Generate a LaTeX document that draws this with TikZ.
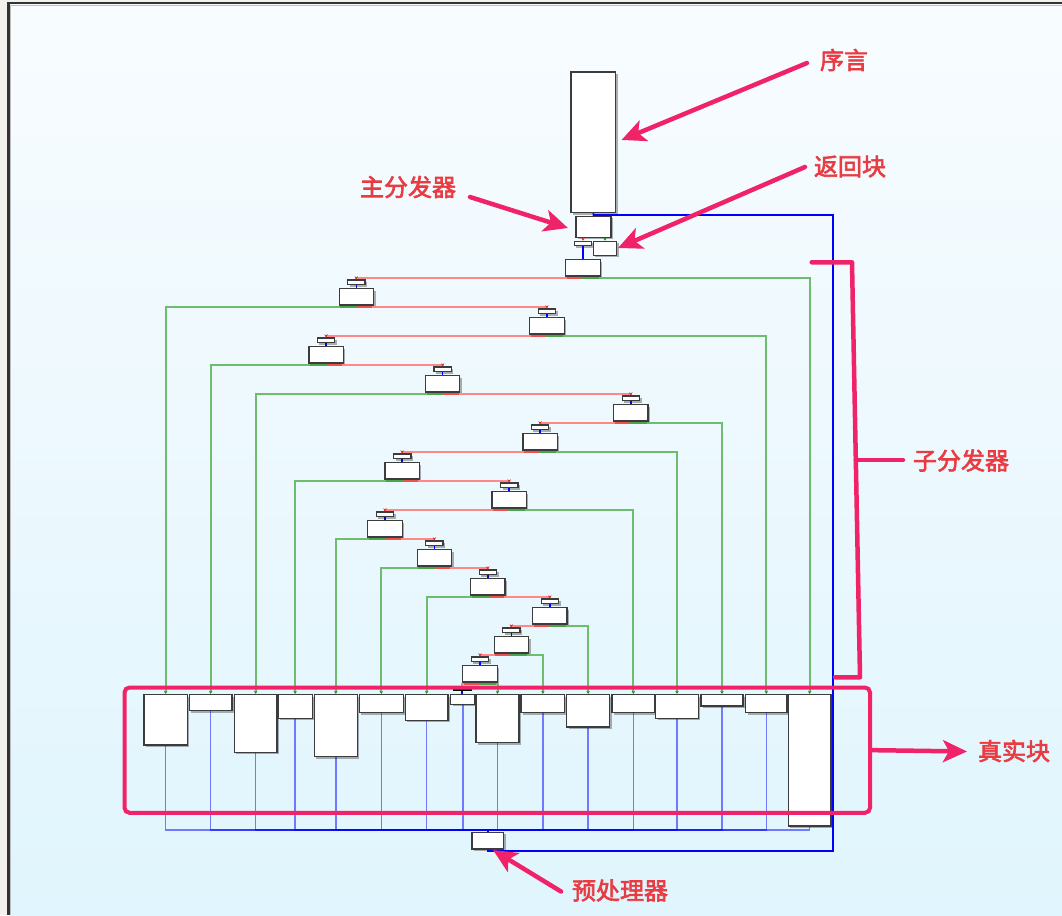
\documentclass[tikz,border=0pt]{standalone}
\usepackage{fontspec}
\newfontfamily\cjk[FakeBold=2.6]{Noto Sans CJK SC}
\usetikzlibrary{arrows.meta,shadows}
\definecolor{bgout}{RGB}{242,241,238}
\definecolor{frame}{RGB}{50,50,50}
\definecolor{bgtop}{RGB}{248,252,255}
\definecolor{bgbot}{RGB}{224,245,253}
\definecolor{annot}{RGB}{240,34,104}
\definecolor{lbltxt}{RGB}{232,60,66}
\definecolor{redL}{RGB}{255,135,135}
\definecolor{redS}{RGB}{235,35,35}
\definecolor{greenL}{RGB}{110,188,110}
\definecolor{greenS}{RGB}{30,140,30}
\definecolor{blueS}{RGB}{0,0,255}
\definecolor{boxline}{RGB}{60,60,60}
\tikzset{
 blk/.style={rectangle, draw=boxline, fill=white, line width=1.2pt, inner sep=0pt,
   drop shadow={shadow xshift=2pt, shadow yshift=-2pt, fill=black, opacity=0.3}},
 tinyx/.style={rectangle, draw=black, fill=black, inner sep=0pt, minimum width=18pt, minimum height=1.2pt},
 redge/.style={draw=redL, line width=2pt, -{Stealth[length=3pt,width=3.5pt,color=redS]}},
 gedge/.style={draw=greenL, line width=2pt, -{Stealth[length=3pt,width=3.5pt,color=greenS]}},
 rstart/.style={draw=redS!80, line width=2.2pt},
 gstart/.style={draw=greenS!80, line width=2.2pt},
 bedge/.style={draw=blueS, line width=1.5pt},
 bret/.style={draw=blueS, draw opacity=0.5, line width=1.6pt},
 bloop/.style={draw=blueS, line width=2pt},
 ann/.style={draw=annot, line width=4.5pt, line cap=round, line join=round},
 annarrow/.style={ann, -{Stealth[length=24pt,width=22pt,inset=6pt]}},
 lbl/.style={font=\cjk\fontsize{24}{28}\selectfont, text=lbltxt, inner sep=0pt},
}
\newcommand\mkbox[5]{%
  \pgfmathsetmacro\mbw{#4-#2}%
  \pgfmathsetmacro\mbh{#5-#3}%
  \node[blk, minimum width=\mbw pt, minimum height=\mbh pt] (#1) at ({(#2+#4)/2},{(#3+#5)/2}) {};}
\newcommand\disp[3]{%
  \node[blk, minimum width=34.4pt, minimum height=16.4pt] (b#1) at (#2,{#3+8.2}) {};
  \node[blk, minimum width=17.4pt, minimum height=4.6pt] (t#1) at (#2,{#3-6.3}) {};
  \draw[bedge] (t#1.south) -- (b#1.north);}
\newcommand\outedge[4]{%
  \draw[#1edge] (#2.south) -- ++(0,1.6) -| (#3.north);
  \draw[#1start] (#2.south) -- ++(0,1.6) -- ++({#4*16},0);}
\begin{document}
\begin{tikzpicture}[x=1pt,y=-1pt]
\useasboundingbox (0,0) rectangle (1062,915);
% background and frame
\fill[bgout] (0,0) rectangle (1062,915);
\fill[frame] (7.3,2.3) rectangle (1062,915);
\shade[top color=bgtop,bottom color=bgbot] (10,5) rectangle (1062,915);
\draw[black!25, line width=0.8pt] (10.5,915) -- (10.5,5.5) -- (1062,5.5);

% top blocks
\mkbox{P}{571}{72}{615.5}{212.5}
\mkbox{D}{576}{216.3}{611}{237.3}
\mkbox{t1}{574.3}{241.3}{591.7}{245.5}
\mkbox{R}{593.3}{241.3}{616.7}{255.3}
\node[blk, minimum width=34.3pt, minimum height=16.4pt] (b1) at (583,267.7) {};
\draw[bedge] (t1.south) -- (b1.north);

% sub dispatchers
\disp{2}{356.3}{288.5}
\disp{3}{546.9}{317.5}
\disp{4}{326.1}{346.5}
\disp{5}{442.6}{375.5}
\disp{6}{630.8}{404.5}
\disp{7}{540.1}{433.5}
\disp{8}{402.2}{462.5}
\disp{9}{509.2}{491.5}
\disp{10}{385}{520.5}
\disp{11}{434.3}{549.5}
\disp{12}{487.8}{578.5}
\disp{13}{549.8}{607.5}
\disp{14}{511.3}{636.5}
\disp{15}{480}{665.5}
\node[tinyx] (X) at (462,690) {};

% real blocks
\mkbox{r1}{144}{694.5}{187.3}{745}
\mkbox{r2}{189.3}{694.5}{232}{710.7}
\mkbox{r3}{234.3}{694.5}{277}{752.3}
\mkbox{r4}{278}{694.5}{312.3}{718.3}
\mkbox{r5}{314.3}{694.5}{357.3}{756.7}
\mkbox{r6}{359.3}{694.5}{403.3}{712.7}
\mkbox{r7}{405.3}{694.5}{448}{720.3}
\mkbox{r8}{450.7}{694.5}{475}{704.3}
\mkbox{r9}{476}{694.5}{519}{742.7}
\mkbox{r10}{521}{694.5}{564.7}{712.7}
\mkbox{r11}{566.7}{694.5}{609.7}{727}
\mkbox{r12}{612}{694.5}{654.7}{712.7}
\mkbox{r13}{655.7}{694.5}{698.3}{718.3}
\mkbox{r14}{701}{694.5}{743}{706}
\mkbox{r15}{745.7}{694.5}{787}{712.7}
\mkbox{r16}{788.3}{694.5}{831}{826}
\mkbox{pre}{472}{832.3}{503.6}{849}

% edges
\draw[bedge] (P.south) -- (D.north);
\draw[redge] (t1.north |- D.south) -- (t1.north);
\draw[gedge] (R.north |- D.south) -- (R.north);
\outedge{r}{b1}{t2}{-1}  \outedge{g}{b1}{r16}{1}
\outedge{r}{b2}{t3}{1}   \outedge{g}{b2}{r1}{-1}
\outedge{r}{b3}{t4}{-1}  \outedge{g}{b3}{r15}{1}
\outedge{r}{b4}{t5}{1}   \outedge{g}{b4}{r2}{-1}
\outedge{r}{b5}{t6}{1}   \outedge{g}{b5}{r3}{-1}
\outedge{r}{b6}{t7}{-1}  \outedge{g}{b6}{r14}{1}
\outedge{r}{b7}{t8}{-1}  \outedge{g}{b7}{r13}{1}
\outedge{r}{b8}{t9}{1}   \outedge{g}{b8}{r4}{-1}
\outedge{r}{b9}{t10}{-1} \outedge{g}{b9}{r12}{1}
\outedge{r}{b10}{t11}{1} \outedge{g}{b10}{r5}{-1}
\outedge{r}{b11}{t12}{1} \outedge{g}{b11}{r6}{-1}
\outedge{r}{b12}{t13}{1} \outedge{g}{b12}{r7}{-1}
\outedge{r}{b13}{t14}{-1} \outedge{g}{b13}{r11}{1}
\outedge{r}{b14}{t15}{-1} \outedge{g}{b14}{r10}{1}
\outedge{r}{b15}{X}{-1}  \outedge{g}{b15}{r9}{1}
\draw[bedge] (X.south) -- (r8.north -| X.south);

\coordinate (busy) at (0,830);
\foreach \i in {1,...,16} {\draw[bret] (r\i.south) -- (r\i.south |- busy) -| (pre.north);}
\coordinate (lpb) at (832.5,850.5);
\coordinate (lpt) at (832.5,214.5);
\draw[bloop] (pre.south) -- (pre.south |- lpb) -- (lpb) -- (lpt) -- (lpt -| D.north) -- (D.north);

% annotations
\node[draw=annot, line width=4pt, rounded corners=5pt, inner sep=0pt,
      minimum width=745.5pt, minimum height=125.3pt] (realbox) at (497.25,750.15) {};
\node[lbl] (Lprol) at (844,60) {序言};
\node[lbl] (Lret) at (850,166.5) {返回块};
\node[lbl] (Lmain) at (408,187) {主分发器};
\node[lbl] (Lsub) at (961,460.5) {子分发器};
\node[lbl] (Lreal) at (1014,751) {真实块};
\node[lbl] (Lpre) at (620,890.5) {预处理器};
\coordinate (s1) at (807,63);   \coordinate (e1) at (621.5,140);
\coordinate (s2) at (805,167);  \coordinate (e2) at (618,248);
\coordinate (s3) at (470,197);  \coordinate (e3) at (568,228);
\coordinate (e4) at (967,751.5);
\coordinate (s5) at (561,891.5); \coordinate (e5) at (493,850);
\draw[annarrow] (s1) -- (e1);
\draw[annarrow] (s2) -- (e2);
\draw[annarrow] (s3) -- (e3);
\draw[annarrow] (realbox.east) -- (e4);
\draw[annarrow] (s5) -- (e5);
\coordinate (k1) at (811.7,262.3); \coordinate (k2) at (852,262.3);
\coordinate (k3) at (860,677.3);   \coordinate (k4) at (835,677.3);
\coordinate (k5) at (855.8,460);   \coordinate (k6) at (903,460);
\draw[ann] (k1) -- (k2) -- (k3) -- (k4);
\draw[ann] (k5) -- (k6);
\end{tikzpicture}
\end{document}
